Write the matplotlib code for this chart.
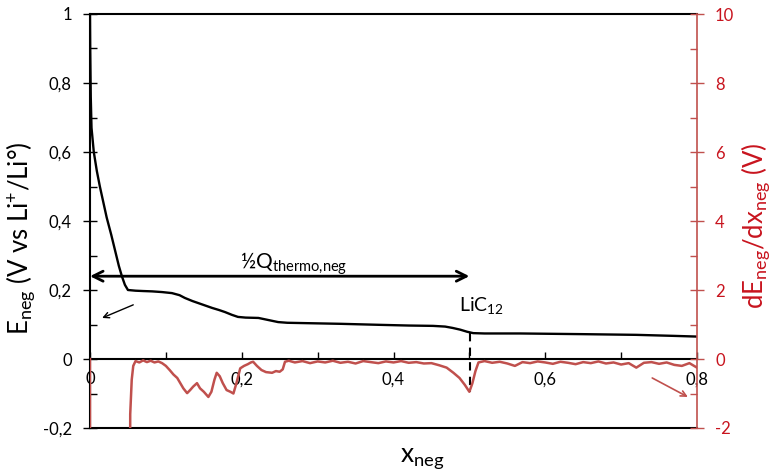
import numpy as np
import matplotlib
matplotlib.use("Agg")
import matplotlib.pyplot as plt
from matplotlib.ticker import MultipleLocator

plt.rcParams['font.family'] = ['Lato', 'DejaVu Sans']
plt.rcParams['mathtext.fontset'] = 'custom'
plt.rcParams['mathtext.rm'] = 'Lato'

# E_neg vs x_neg (left axis, V vs Li+/Li)
e_x = [0.0, 0.0003, 0.001, 0.002, 0.005, 0.009, 0.013, 0.017, 0.022, 0.028,
       0.033, 0.038, 0.042, 0.046, 0.050, 0.060, 0.070, 0.082, 0.095, 0.108,
       0.118, 0.125, 0.135, 0.148, 0.161, 0.170, 0.178, 0.187, 0.195, 0.205,
       0.222, 0.235, 0.248, 0.260, 0.283, 0.330, 0.382, 0.420, 0.452, 0.468,
       0.478, 0.488, 0.497, 0.505, 0.520, 0.567, 0.650, 0.720, 0.770, 0.800]
e_y = [1.0, 0.90, 0.76, 0.67, 0.60, 0.545, 0.50, 0.46, 0.41, 0.36,
       0.315, 0.27, 0.24, 0.215, 0.200, 0.198, 0.197, 0.196, 0.194, 0.191,
       0.185, 0.177, 0.168, 0.158, 0.148, 0.142, 0.136, 0.128, 0.122, 0.120,
       0.119, 0.113, 0.107, 0.105, 0.104, 0.102, 0.099, 0.097, 0.096, 0.094,
       0.090, 0.085, 0.079, 0.075, 0.074, 0.074, 0.072, 0.070, 0.067, 0.065]

# dE_neg/dx_neg (right axis, V)
d_x = [0.0, 0.0005, 0.051, 0.053, 0.055, 0.057, 0.060, 0.065, 0.070, 0.075,
       0.080, 0.085, 0.090, 0.095, 0.100, 0.105, 0.110, 0.115, 0.119, 0.123,
       0.128, 0.132, 0.136, 0.141, 0.145, 0.150, 0.156, 0.160, 0.164, 0.167,
       0.171, 0.175, 0.180, 0.185, 0.189, 0.193, 0.198, 0.203, 0.208, 0.212,
       0.215, 0.220, 0.226, 0.232, 0.240, 0.245, 0.250, 0.254, 0.257, 0.262,
       0.270, 0.280, 0.290, 0.300, 0.310, 0.320, 0.330, 0.340, 0.350, 0.360,
       0.370, 0.380, 0.390, 0.400, 0.410, 0.420, 0.430, 0.440, 0.450, 0.460,
       0.470, 0.479, 0.487, 0.494, 0.500, 0.504, 0.508, 0.512, 0.520, 0.530,
       0.540, 0.550, 0.560, 0.570, 0.580, 0.590, 0.600, 0.610, 0.620, 0.630,
       0.640, 0.650, 0.660, 0.670, 0.680, 0.690, 0.700, 0.710, 0.720, 0.730,
       0.740, 0.750, 0.760, 0.770, 0.780, 0.790, 0.800]
d_y = [0.0, -30.0, -30.0, -1.6, -0.6, -0.2, -0.06, -0.10, -0.04, -0.09,
       -0.05, -0.10, -0.07, -0.12, -0.20, -0.32, -0.45, -0.55, -0.70, -0.85,
       -0.99, -0.90, -0.80, -0.70, -0.85, -0.95, -1.10, -0.95, -0.60, -0.40,
       -0.50, -0.70, -0.90, -0.95, -1.00, -0.70, -0.27, -0.20, -0.15, -0.10,
       -0.08, -0.20, -0.32, -0.38, -0.40, -0.35, -0.37, -0.30, -0.08, -0.05,
       -0.10, -0.06, -0.12, -0.07, -0.10, -0.05, -0.11, -0.08, -0.13, -0.06,
       -0.09, -0.12, -0.07, -0.10, -0.06, -0.11, -0.09, -0.13, -0.12, -0.18,
       -0.25, -0.40, -0.55, -0.75, -0.95, -0.70, -0.35, -0.10, -0.06, -0.11,
       -0.08, -0.13, -0.20, -0.09, -0.12, -0.07, -0.10, -0.14, -0.08, -0.11,
       -0.15, -0.09, -0.12, -0.07, -0.13, -0.10, -0.16, -0.12, -0.25, -0.11,
       -0.09, -0.14, -0.10, -0.17, -0.20, -0.12, -0.25]

left_ticks = [-0.2, 0, 0.2, 0.4, 0.6, 0.8, 1.0]
left_labels = ['-0,2', '0', '0,2', '0,4', '0,6', '0,8', '1']
right_ticks = [-2, 0, 2, 4, 6, 8, 10]
right_labels = ['-2', '0', '2', '4', '6', '8', '10']
x_ticks = [0, 0.2, 0.4, 0.6, 0.8]
x_labels = ['0', '0,2', '0,4', '0,6', '0,8']

red = '#C0504D'
red_txt = '#C8141E'

fig = plt.figure(figsize=(7.74, 4.76), dpi=100)
ax = fig.add_axes([90 / 774, 48 / 476, 607 / 774, 414 / 476])
ax2 = ax.twinx()

ax.plot(e_x, e_y, color='black', lw=1.7, zorder=3)
ax2.plot(d_x, d_y, color=red, lw=1.8)

ax.set_xlim(0, 0.8)
ax.set_ylim(-0.2, 1.0)
ax2.set_ylim(-2, 10)

# x axis sits on y = 0, frame line at -0.2
ax.spines['bottom'].set_position(('data', 0))
ax.spines['right'].set_visible(False)
for s in ['left', 'bottom', 'top']:
    ax.spines[s].set_linewidth(1.5)
ax.axhline(-0.2, color='black', lw=1.5, clip_on=False)
for s in ['left', 'bottom', 'top']:
    ax2.spines[s].set_visible(False)
ax2.spines['right'].set_color(red)
ax2.spines['right'].set_linewidth(1.2)

ax.set_xticks(x_ticks, x_labels)
ax.xaxis.set_minor_locator(MultipleLocator(0.1))
ax.tick_params(axis='x', which='both', direction='in', length=5, width=1, pad=9, labelsize=12)
ax.set_yticks(left_ticks, left_labels)
ax.yaxis.set_minor_locator(MultipleLocator(0.1))
ax.tick_params(axis='y', which='major', direction='inout', length=10, width=1, pad=8, labelsize=12)
ax.tick_params(axis='y', which='minor', direction='in', length=5, width=1)

ax2.set_yticks(right_ticks, right_labels)
ax2.yaxis.set_minor_locator(MultipleLocator(1))
ax2.tick_params(axis='y', which='major', direction='inout', length=10, width=1, pad=8,
                labelsize=12, colors=red, labelcolor=red_txt)
ax2.tick_params(axis='y', which='minor', direction='in', length=5, width=1, colors=red)

ax.set_ylabel(r'$\mathregular{E_{neg}}$ (V vs Li$\mathregular{^{+}}$/Li°)', fontsize=18.5)
ax.yaxis.set_label_coords(-0.087, 0.459)
ax2.set_ylabel(r'$\mathregular{dE_{neg}/dx_{neg}}$ (V)', fontsize=18.5, color=red_txt)
ax2.yaxis.set_label_coords(1.07, 0.488)
ax.text(0.548, -0.082, r'$\mathregular{x_{neg}}$', transform=ax.transAxes, fontsize=19,
        ha='center', va='baseline')

# annotations
ax.annotate('', xy=(0, 0.24), xytext=(0.5, 0.24),
            arrowprops=dict(arrowstyle='<->', lw=2, color='black', shrinkA=0, shrinkB=0,
                            mutation_scale=18))
ax.text(0.268, 0.262, r'½Q$\mathregular{_{thermo{,}neg}}$', fontsize=15, ha='center', va='baseline')
ax.text(0.516, 0.139, r'LiC$\mathregular{_{12}}$', fontsize=14, ha='center', va='baseline')
ax.plot([0.501, 0.501], [0.075, -0.096], color='black', lw=1.5, ls=(0, (4, 3)), zorder=4)
ax.annotate('', xy=(0.016, 0.119), xytext=(0.057, 0.157),
            arrowprops=dict(arrowstyle='->', lw=1, color='black', shrinkA=0, shrinkB=0))
ax.annotate('', xy=(0.788, -0.11), xytext=(0.741, -0.055),
            arrowprops=dict(arrowstyle='->', lw=1.2, color=red, shrinkA=0, shrinkB=0))

fig.savefig('out.png', dpi=100)
